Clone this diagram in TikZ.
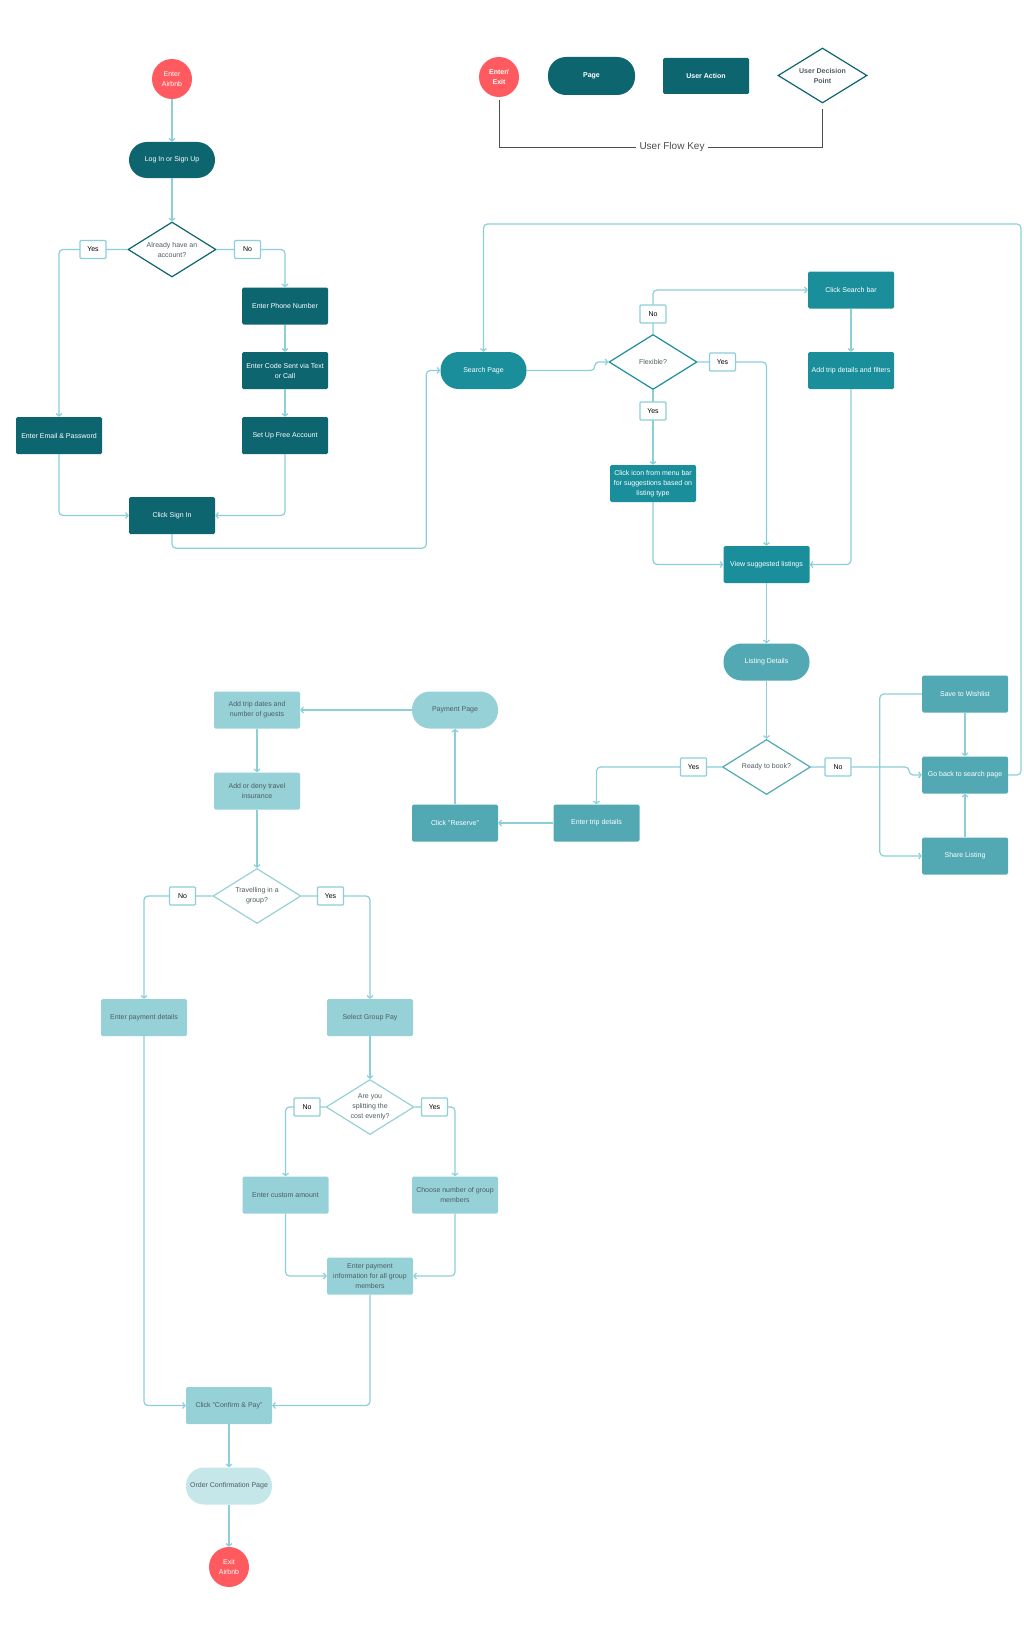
\documentclass[tikz,border=0pt]{standalone}
\usepackage{fontspec}
\setmainfont{Liberation Sans}
\usetikzlibrary{arrows.meta,shapes.geometric}

\definecolor{airred}{HTML}{FF5A5F}
\definecolor{tealdark}{HTML}{0D6570}
\definecolor{tealmid}{HTML}{1A8F9B}
\definecolor{teallist}{HTML}{52A9B4}
\definecolor{tealpay}{HTML}{96D1D8}
\definecolor{tealorder}{HTML}{C6E7EA}
\definecolor{flowc}{HTML}{8CCFD8}
\definecolor{txtgray}{HTML}{4E5D61}
\definecolor{keygray}{HTML}{4D4D4D}

\begin{document}
\begin{tikzpicture}[
  x=1pt, y=-1pt,
  font=\fontsize{7}{10}\selectfont,
  endpt/.style={circle, fill=airred, text=white, minimum size=40pt, inner sep=0pt, align=center},
  act/.style={rectangle, rounded corners=1.5pt, minimum width=86pt, minimum height=37pt, inner sep=2pt, align=center},
  pagebox/.style={act, rounded corners=18pt},
  dark/.style={fill=tealdark, text=white},
  mid/.style={fill=tealmid, text=white},
  lst/.style={fill=teallist, text=white},
  pay/.style={fill=tealpay, text=txtgray},
  choice/.style={diamond, aspect=1.6, fill=white, line width=1.2pt, minimum width=88pt, minimum height=55pt,
                 inner sep=0pt, align=center, text=txtgray},
  tag/.style={draw=flowc, line width=1.2pt, fill=white, minimum width=26pt, minimum height=18pt, inner sep=0pt,
              rounded corners=1pt},
  flow/.style={draw=flowc, line width=1.2pt, rounded corners=4pt, -{Straight Barb[length=2.5pt,width=6pt]}},
  keyline/.style={draw=keygray, line width=1pt}
]
\fill[white] (0,0) rectangle (1024,1627);
\useasboundingbox (0,0) rectangle (1024,1627);

\node[endpt, font=\fontsize{7}{10}\selectfont\bfseries] (kexit) at (499,77) {Enter/\\Exit};
\node[pagebox, dark, minimum width=87pt, minimum height=38pt, font=\fontsize{7}{10}\selectfont\bfseries] (kpage) at (591.5,76) {Page};
\node[act, dark, minimum height=36pt, font=\fontsize{7}{10}\selectfont\bfseries] (kaction) at (706,76) {User Action};
\node[choice, draw=tealdark, minimum width=89pt, font=\fontsize{7}{10}\selectfont\bfseries] (kdec) at (822.5,75.5) {User Decision\\Point};
\node[fill=white, text=keygray, inner sep=3pt, font=\fontsize{10}{12}\selectfont] (ktitle) at (672,147) {User Flow Key};
\draw[keyline, shorten <=3pt] (kexit.south) |- (ktitle.west);
\draw[keyline, shorten >=5pt] (ktitle.east) -| (kdec.south);

\node[endpt] (enter) at (172,79) {Enter\\Airbnb};
\node[pagebox, dark, minimum height=36pt] (login) at (172,160) {Log In or Sign Up};
\node[choice, draw=tealdark] (acct) at (172,249.5) {Already have an\\account?};
\node[act, dark] (email) at (59,435.5) {Enter Email \& Password};
\node[act, dark] (phone) at (285,306) {Enter Phone Number};
\node[act, dark] (code) at (285,370.5) {Enter Code Sent via Text\\or Call};
\node[act, dark] (setup) at (285,435.5) {Set Up Free Account};
\node[act, dark] (signin) at (172,515.5) {Click Sign In};

\node[pagebox, mid] (search) at (483.5,370.5) {Search Page};
\node[choice, draw=tealmid] (flex) at (653,362) {Flexible?};
\node[act, mid] (csearch) at (851,290) {Click Search bar};
\node[act, mid] (filters) at (851,370.5) {Add trip details and filters};
\node[act, mid] (icon) at (653,483.5) {Click icon from menu bar\\for suggestions based on\\listing type};
\node[act, mid] (view) at (766.5,564.5) {View suggested listings};

\node[pagebox, lst] (listing) at (766.5,662) {Listing Details};
\node[choice, draw=teallist] (ready) at (766.5,767) {Ready to book?};
\node[act, lst] (tripdet) at (596.5,823) {Enter trip details};
\node[act, lst] (reserve) at (455,823) {Click "Reserve"};
\node[act, lst] (wish) at (965,694) {Save to Wishlist};
\node[act, lst] (goback) at (965,775) {Go back to search page};
\node[act, lst] (share) at (965,856) {Share Listing};
\coordinate (loopcorner) at (1021,224);

\node[pagebox, pay] (payment) at (455,710) {Payment Page};
\node[act, pay] (dates) at (257,710) {Add trip dates and\\number of guests};
\node[act, pay] (insure) at (257,791) {Add or deny travel\\insurance};
\node[choice, draw=tealpay] (group) at (257,896) {Travelling in a\\group?};
\node[act, pay] (payd) at (144,1017.5) {Enter payment details};
\node[act, pay] (gpay) at (370,1017.5) {Select Group Pay};
\node[choice, draw=tealpay] (split) at (370,1107) {Are you\\splitting the\\cost evenly?};
\node[act, pay] (custom) at (285.5,1195) {Enter custom amount};
\node[act, pay] (choose) at (455,1195) {Choose number of group\\members};
\node[act, pay] (payinfo) at (370,1276) {Enter payment\\information for all group\\members};
\node[act, pay] (confirm) at (229,1405.5) {Click "Confirm \& Pay"};
\node[pagebox, fill=tealorder, text=txtgray] (order) at (229,1486) {Order Confirmation Page};
\node[endpt] (exitn) at (229,1567) {Exit\\Airbnb};

\draw[flow] (enter) -- (login);
\draw[flow] (login) -- (acct);
\draw[flow] (acct.west) -| (email.north);
\draw[flow] (acct.east) -| (phone.north);
\draw[flow] (phone) -- (code);
\draw[flow] (code) -- (setup);
\draw[flow] (email.south) |- (signin.west);
\draw[flow] (setup.south) |- (signin.east);
\draw[flow] (signin.south) -- ++(0,14) -| ([xshift=-14pt]search.west) -- (search.west);

\draw[flow] (search.east) -- ++(68,0) |- (flex.west);
\draw[flow] (flex.north) |- (csearch.west);
\draw[flow] (flex.east) -| (view.north);
\draw[flow] (flex.south) -- (icon.north);
\draw[flow] (csearch) -- (filters);
\draw[flow] (icon.south) |- (view.west);
\draw[flow] (filters.south) |- (view.east);
\draw[flow] (view) -- (listing);
\draw[flow] (listing) -- (ready);

\draw[flow] (ready.west) -| (tripdet.north);
\draw[flow] (ready.east) -- ++(98,0) |- (goback.west);
\draw[flow] (wish.west) -- ++(-42,0) |- (share.west);
\draw[flow] (wish) -- (goback);
\draw[flow] (share) -- (goback);
\draw[flow] (goback.east) -| (loopcorner) -| (search.north);
\draw[flow] (tripdet) -- (reserve);
\draw[flow] (reserve) -- (payment);

\draw[flow] (payment) -- (dates);
\draw[flow] (dates) -- (insure);
\draw[flow] (insure) -- (group);
\draw[flow] (group.west) -| (payd.north);
\draw[flow] (group.east) -| (gpay.north);
\draw[flow] (gpay) -- (split);
\draw[flow] (split.west) -| (custom.north);
\draw[flow] (split.east) -| (choose.north);
\draw[flow] (custom.south) |- (payinfo.west);
\draw[flow] (choose.south) |- (payinfo.east);
\draw[flow] (payd.south) |- (confirm.west);
\draw[flow] (payinfo.south) |- (confirm.east);
\draw[flow] (confirm) -- (order);
\draw[flow] (order) -- (exitn);

\node[tag] (ayes) at (93,249.5) {Yes};
\node[tag] (ano) at (247.5,249.5) {No};
\node[tag] (fno) at (653,314) {No};
\node[tag] (fyes) at (722.5,362) {Yes};
\node[tag] (fyesb) at (653,411) {Yes};
\node[tag] (ryes) at (693.5,767) {Yes};
\node[tag] (rno) at (838,767) {No};
\node[tag] (gno) at (182.5,896) {No};
\node[tag] (gyes) at (330.5,896) {Yes};
\node[tag] (sno) at (307,1107) {No};
\node[tag] (syes) at (434.5,1107) {Yes};
\end{tikzpicture}
\end{document}
